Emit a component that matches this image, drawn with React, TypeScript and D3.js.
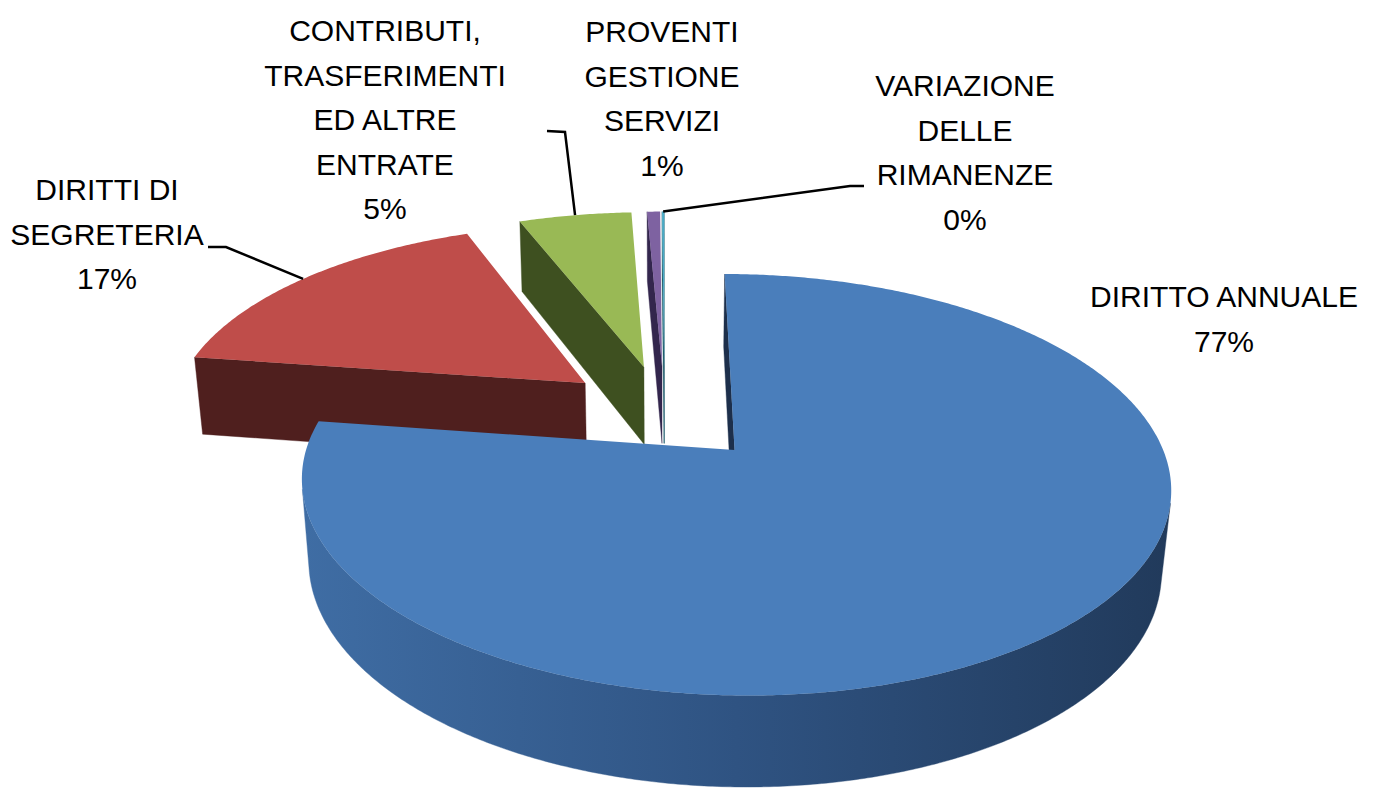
import React from "react";
import * as d3 from "d3";

// ---------- DATA ----------
const categories = [
  "DIRITTO ANNUALE",
  "DIRITTI DI SEGRETERIA",
  "CONTRIBUTI, TRASFERIMENTI ED ALTRE ENTRATE",
  "PROVENTI GESTIONE SERVIZI",
  "VARIAZIONE DELLE RIMANENZE",
];
const values = [77.3, 16.8, 5.2, 0.6, 0.1];
const labelLines = [
  ["DIRITTO ANNUALE"],
  ["DIRITTI DI", "SEGRETERIA"],
  ["CONTRIBUTI,", "TRASFERIMENTI", "ED ALTRE", "ENTRATE"],
  ["PROVENTI", "GESTIONE", "SERVIZI"],
  ["VARIAZIONE", "DELLE", "RIMANENZE"],
];

// ---------- STYLE / LAYOUT ----------
const topColors = ["#4a7ebb", "#bf4d4a", "#99b955", "#7e62a1", "#48abc6"];
const sideColors = ["#2f5382", "#4f1f1e", "#3e5020", "#3a2b55", "#1f5a6a"];
const faceColors = ["#1d2f4b", "#4f1f1e", "#3e5020", "#33264d", "#1f5a6a"];

const W = 1373;
const H = 791;
const CX = 664.5;
const CY = 412.4;
const F = 2300.7;
const DIST = 5.536;
const TILT = Math.asin(0.4639);
const THICK = 0.22;
const EXPLODE = 0.25;
const sinT = Math.sin(TILT);
const cosT = Math.cos(TILT);
const CAM = { X: 0, Y: DIST * sinT, Z: DIST * cosT };

const FONT = "'Liberation Sans', Arial, sans-serif";
const FONT_SIZE = 30;
const LINE_H = 44.5;
const labelPos = [
  { x: 1224, y: 307 },
  { x: 107, y: 200 },
  { x: 385, y: 41 },
  { x: 662, y: 42 },
  { x: 965, y: 96 },
];
const leaderStarts: Record<number, [number, number][]> = {
  1: [
    [208, 247],
    [226, 247],
  ],
  2: [
    [547, 131],
    [565, 132],
  ],
  4: [
    [864, 186],
    [850, 186],
  ],
};

function project(X: number, Y: number, Z: number): [number, number, number] {
  const zc = DIST - (Z * cosT + Y * sinT);
  const yc = Y * cosT - Z * sinT;
  return [CX + (F * X) / zc, CY - (F * yc) / zc, zc];
}

const pathOf = (pts: [number, number, number][]) =>
  "M" + pts.map((p) => p[0].toFixed(2) + "," + p[1].toFixed(2)).join("L") + "Z";

export default function App() {
  const total = d3.sum(values);
  const arcs = d3
    .pie<number>()
    .sort(null)
    .value((d) => d)
    .startAngle(0)
    .endAngle(2 * Math.PI)(values);

  const slices = arcs.map((a, i) => {
    const mid = (a.startAngle + a.endAngle) / 2;
    return {
      i,
      a0: a.startAngle,
      a1: a.endAngle,
      mid,
      ox: EXPLODE * Math.sin(mid),
      oz: -EXPLODE * Math.cos(mid),
    };
  });

  const rim = (s: any, phi: number, Y: number, r = 1) =>
    project(s.ox + r * Math.sin(phi), Y, s.oz - r * Math.cos(phi));

  type Wall = { d: string; depth: number; fill: string; key: string };
  const walls: Wall[] = [];
  const gradients: { id: string; x1: number; x2: number; base: string; top: string }[] = [];
  const tops: { d: string; fill: string; key: string }[] = [];

  slices.forEach((s) => {
    const n = Math.max(2, Math.ceil((s.a1 - s.a0) / (Math.PI / 360)) + 1);
    const phis = d3.range(n).map((k) => s.a0 + ((s.a1 - s.a0) * k) / (n - 1));

    // top face
    const apexTop = project(s.ox, 0, s.oz);
    const topPts = [apexTop, ...phis.map((p) => rim(s, p, 0))];
    tops.push({ d: pathOf(topPts), fill: topColors[s.i], key: "top" + s.i });

    // outer wall (visible runs)
    let run: number[] = [];
    const runs: number[][] = [];
    phis.forEach((p) => {
      const X = s.ox + Math.sin(p);
      const Z = s.oz - Math.cos(p);
      const vis = Math.sin(p) * (CAM.X - X) + -Math.cos(p) * (CAM.Z - Z) > 0;
      if (vis) run.push(p);
      else if (run.length) {
        runs.push(run);
        run = [];
      }
    });
    if (run.length) runs.push(run);
    runs.forEach((r, ri) => {
      if (r.length < 2) return;
      const up = r.map((p) => rim(s, p, 0));
      const dn = r.map((p) => rim(s, p, -THICK)).reverse();
      const pts = [...up, ...dn];
      const id = `wallGrad${s.i}_${ri}`;
      const xs = pts.map((p) => p[0]);
      gradients.push({ id, x1: d3.min(xs)!, x2: d3.max(xs)!, base: sideColors[s.i], top: topColors[s.i] });
      walls.push({ d: pathOf(pts), depth: d3.mean(pts, (p) => p[2])!, fill: `url(#${id})`, key: id });
    });

    // radial faces
    const apexBot = project(s.ox, -THICK, s.oz);
    const faceFor = (phi: number, nx: number, nz: number, tag: string) => {
      const Xm = s.ox + 0.5 * Math.sin(phi);
      const Zm = s.oz - 0.5 * Math.cos(phi);
      const vis = nx * (CAM.X - Xm) + nz * (CAM.Z - Zm) > 0;
      if (!vis) return;
      const pts = [apexTop, rim(s, phi, 0), rim(s, phi, -THICK), apexBot];
      walls.push({ d: pathOf(pts), depth: d3.mean(pts, (p) => p[2])!, fill: faceColors[s.i], key: tag + s.i });
    };
    faceFor(s.a0, -Math.cos(s.a0), -Math.sin(s.a0), "fs");
    faceFor(s.a1, Math.cos(s.a1), Math.sin(s.a1), "fe");
  });

  walls.sort((a, b) => b.depth - a.depth);

  const line = d3.line();

  return (
    <svg
      width={W}
      height={H}
      viewBox={`0 0 ${W} ${H}`}
      style={{ position: "absolute", left: 0, top: 0, background: "#fff" }}
    >
      <defs>
        {gradients.map((g) => {
          const left = d3.interpolateRgb(g.base, g.top)(0.6);
          const right = d3.color(g.base)!.darker(1).formatHex();
          return (
            <linearGradient key={g.id} id={g.id} gradientUnits="userSpaceOnUse" x1={g.x1} x2={g.x2} y1={0} y2={0}>
              <stop offset="0" stopColor={left} />
              <stop offset="0.5" stopColor={g.base} />
              <stop offset="1" stopColor={right} />
            </linearGradient>
          );
        })}
      </defs>
      <rect width={W} height={H} fill="#fff" />
      <g>
        {walls.map((w) => (
          <path key={w.key} d={w.d} fill={w.fill} stroke={w.fill} strokeWidth={0.4} />
        ))}
      </g>
      <g>
        {tops.map((t) => (
          <path key={t.key} d={t.d} fill={t.fill} />
        ))}
      </g>
      <g fill="none" stroke="#000" strokeWidth={2.5}>
        {slices.map((s) => {
          const start = leaderStarts[s.i];
          if (!start) return null;
          const end = rim(s, s.mid, 0);
          const pts: [number, number][] = [...start, [end[0], end[1]]];
          return <path key={"lead" + s.i} d={line(pts)!} />;
        })}
      </g>
      <g fontFamily={FONT} fontSize={FONT_SIZE} fill="#000" textAnchor="middle">
        {slices.map((s) => {
          const lines = [...labelLines[s.i], Math.round((values[s.i] / total) * 100) + "%"];
          const pos = labelPos[s.i];
          return (
            <text key={"lbl" + s.i} aria-label={categories[s.i]}>
              {lines.map((l, k) => (
                <tspan key={k} x={pos.x} y={pos.y + k * LINE_H}>
                  {l}
                </tspan>
              ))}
            </text>
          );
        })}
      </g>
    </svg>
  );
}
